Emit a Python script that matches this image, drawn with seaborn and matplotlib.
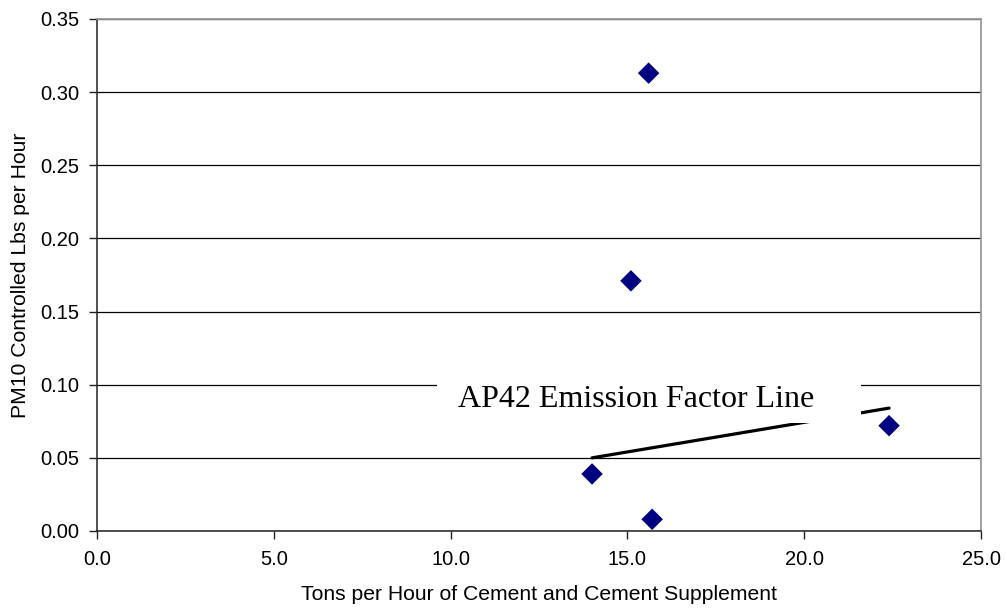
import matplotlib
matplotlib.use("Agg")
import matplotlib.pyplot as plt
from matplotlib.patches import Rectangle
import seaborn as sns
import pandas as pd

# Measured controlled PM10 emissions vs. cement throughput
tons_per_hour = [15.6, 15.1, 14.0, 15.7, 22.4]
pm10_lbs_per_hour = [0.313, 0.171, 0.039, 0.008, 0.072]

# AP42 emission factor line endpoints
ap42_x = [14.0, 22.4]
ap42_y = [0.050, 0.084]

x_ticks = [0.0, 5.0, 10.0, 15.0, 20.0, 25.0]
y_ticks = [0.00, 0.05, 0.10, 0.15, 0.20, 0.25, 0.30, 0.35]

sns.set_theme(style="white")
plt.rcParams["font.family"] = ["Liberation Sans", "DejaVu Sans"]

df = pd.DataFrame({"tph": tons_per_hour, "pm10": pm10_lbs_per_hour})
line_df = pd.DataFrame({"tph": ap42_x, "pm10": ap42_y})

fig = plt.figure(figsize=(10.05, 6.08), dpi=100)
ax = fig.add_axes([97 / 1005, 1 - 531 / 608, 884 / 1005, 512 / 608])

sns.lineplot(data=line_df, x="tph", y="pm10", ax=ax, color="black",
             linewidth=2.3, zorder=2)

# White label box that masks the gridline and part of the factor line
ax.add_patch(Rectangle((9.62, 0.0738), 11.98, 0.036, facecolor="white",
                       edgecolor="none", zorder=3))
ax.text(10.2, 0.0845, "AP42 Emission Factor Line",
        family=["Liberation Serif", "DejaVu Serif"],
        fontsize=23, color="black", zorder=4, va="baseline", ha="left")

sns.scatterplot(data=df, x="tph", y="pm10", ax=ax, marker="D", s=120,
                color="#000080", edgecolor="none", zorder=5)

ax.set_xlim(0, 25)
ax.set_ylim(0, 0.35)
ax.set_xticks(x_ticks)
ax.set_yticks(y_ticks)
ax.set_xticklabels([f"{v:.1f}" for v in x_ticks])
ax.set_yticklabels([f"{v:.2f}" for v in y_ticks])

ax.yaxis.grid(True, color="black", linewidth=0.9)
ax.xaxis.grid(False)
ax.set_axisbelow(True)

for side in ("left", "bottom"):
    ax.spines[side].set_color("#222222")
    ax.spines[side].set_linewidth(1.1)
for side in ("top", "right"):
    ax.spines[side].set_color("#999999")
    ax.spines[side].set_linewidth(1.3)

ax.tick_params(axis="both", direction="out", length=6, width=1, color="#222222",
               labelsize=14.5, labelcolor="black", bottom=True, left=True)
ax.tick_params(axis="y", pad=7)
ax.tick_params(axis="x", pad=8)

ax.set_xlabel("Tons per Hour of Cement and Cement Supplement", fontsize=15.2,
              color="black", labelpad=11)
ax.set_ylabel("PM10 Controlled Lbs per Hour", fontsize=15.2,
              color="black", labelpad=7)

fig.savefig("out.png", dpi=100, facecolor="white")
